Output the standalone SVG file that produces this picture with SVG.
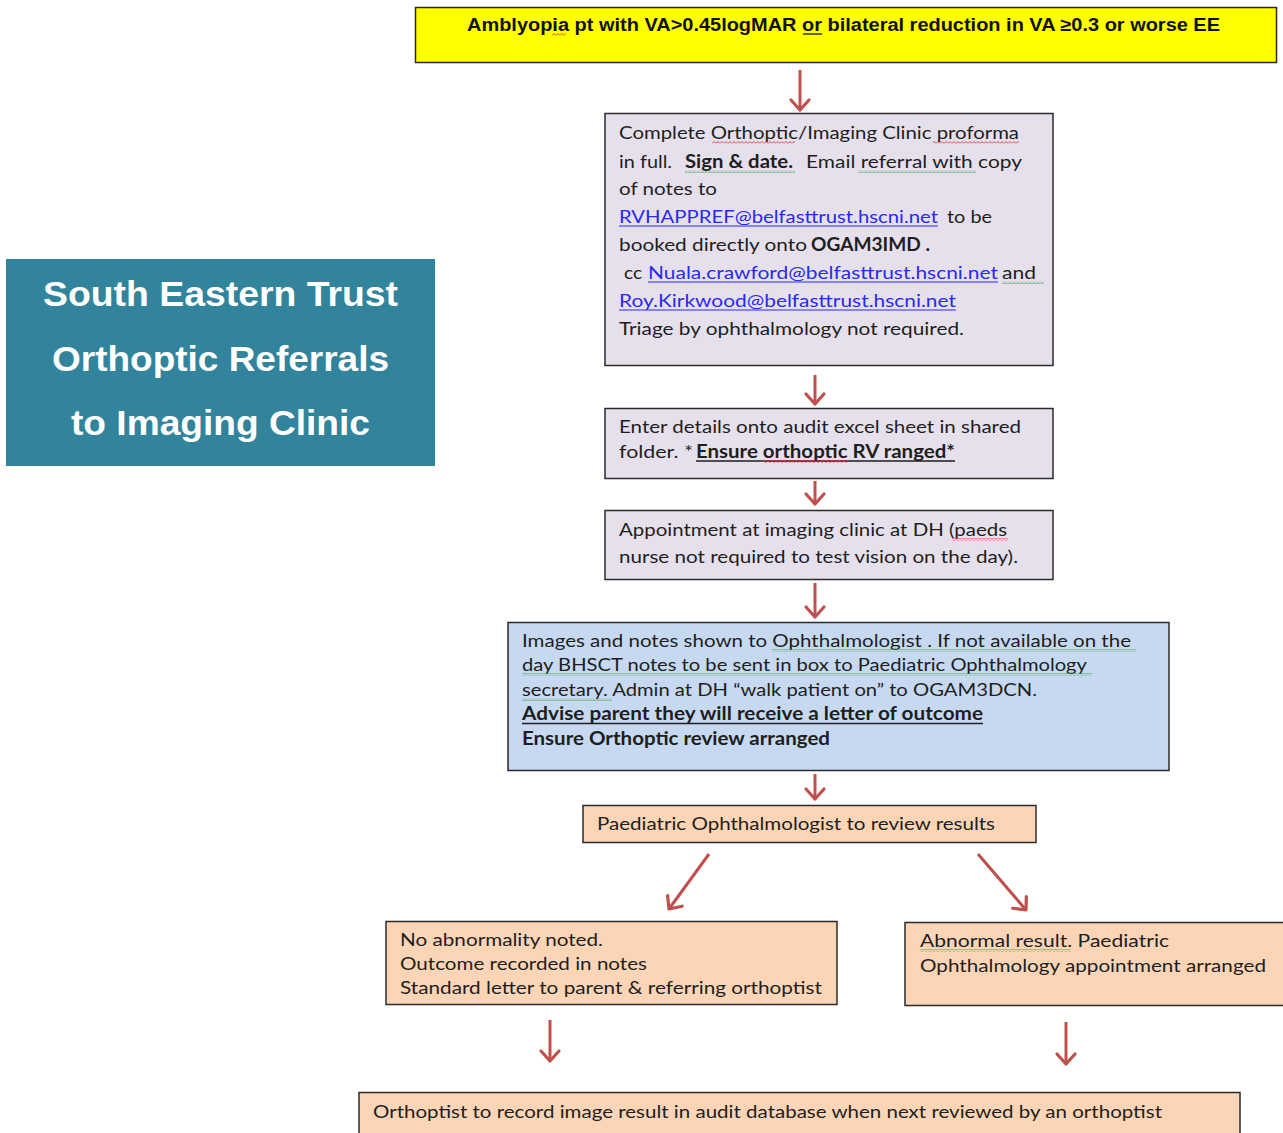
<svg xmlns="http://www.w3.org/2000/svg" width="1283" height="1133" viewBox="0 0 1283 1133">
  <defs>
    <style>
      .box { stroke: #2b2b2b; stroke-width: 1.5; }
      .t { font-family: Lato, "Open Sans", sans-serif; font-size: 18px; fill: #1e1e1e; }
      .b { font-weight: bold; }
      .link { fill: #2a2af0; }
      .ul { stroke: #1e1e1e; stroke-width: 1.3; }
      .ulb { stroke: #2a2af0; stroke-width: 1.2; }
      .title { font-family: "Liberation Sans", Arial, sans-serif; font-size: 35px; font-weight: bold; fill: #ffffff; }
      .head { font-family: "Liberation Sans", Arial, sans-serif; font-size: 18px; font-weight: bold; fill: #111111; }
      .conn { stroke: #C0504D; stroke-width: 3; fill: none; marker-end: url(#chev); }
    </style>
    <marker id="chev" markerUnits="userSpaceOnUse" markerWidth="24" markerHeight="24" refX="0" refY="0" viewBox="-12 -12 24 24" orient="auto" overflow="visible">
      <path d="M-10,-9 L0,0 L-10,9" fill="none" stroke="#C0504D" stroke-width="3.2" stroke-linecap="round" stroke-linejoin="round"/>
    </marker>
    <pattern id="wavyRed" patternUnits="userSpaceOnUse" width="4" height="3">
      <path d="M0,2.5 L2,0.5 L4,2.5" fill="none" stroke="#e03030" stroke-width="0.9"/>
    </pattern>
    <pattern id="wavyGreen" patternUnits="userSpaceOnUse" width="4" height="3">
      <path d="M0,2.5 L2,0.5 L4,2.5" fill="none" stroke="#3fa03f" stroke-width="0.9"/>
    </pattern>
  </defs>

  <rect width="1283" height="1133" fill="#ffffff"/>

  <!-- title panel -->
  <g id="title">
    <rect x="6" y="259" width="429" height="207" fill="#31849B"/>
    <text class="title" x="43" y="306" textLength="355" lengthAdjust="spacingAndGlyphs">South Eastern Trust</text>
    <text class="title" x="52" y="371" textLength="337" lengthAdjust="spacingAndGlyphs">Orthoptic Referrals</text>
    <text class="title" x="71" y="435" textLength="299" lengthAdjust="spacingAndGlyphs">to Imaging Clinic</text>
  </g>

  <!-- connectors -->
  <g id="connectors">
    <path class="conn" d="M800,70 L800,110"/>
    <path class="conn" d="M815,375 L815,404"/>
    <path class="conn" d="M815,481 L815,504"/>
    <path class="conn" d="M815,583 L815,617"/>
    <path class="conn" d="M815,774 L815,799"/>
    <path class="conn" d="M709,854 L669,909"/>
    <path class="conn" d="M978,854 L1026,910"/>
    <path class="conn" d="M550,1020 L550,1061"/>
    <path class="conn" d="M1066,1022 L1066,1064"/>
  </g>

  <!-- criteria -->
  <g id="criteria">
    <rect class="box" x="415.5" y="7.5" width="861" height="55" fill="#FFFF00"/>
    <text class="head" x="467" y="31" textLength="753" lengthAdjust="spacingAndGlyphs">Amblyopia pt with VA&gt;0.45logMAR or bilateral reduction in VA ≥0.3 or worse EE</text>
    <line x1="803" y1="34" x2="822" y2="34" stroke="#111" stroke-width="1.3"/>
    <rect x="552" y="33" width="14" height="3" fill="url(#wavyRed)"/>
  </g>

  <!-- proforma and email -->
  <g id="proforma">
    <rect class="box" x="605" y="113.5" width="448" height="252" fill="#E6E0EC"/>
    <text class="t" x="619" y="139" textLength="400" lengthAdjust="spacingAndGlyphs">Complete Orthoptic/Imaging Clinic proforma</text>
    <rect x="712" y="141" width="83" height="3" fill="url(#wavyRed)"/>
    <rect x="933" y="141" width="86" height="3" fill="url(#wavyRed)"/>
    <text class="t" x="619" y="168" textLength="53" lengthAdjust="spacingAndGlyphs">in full.</text>
    <text class="t b" x="685" y="168" textLength="108" lengthAdjust="spacingAndGlyphs">Sign &amp; date.</text>
    <text class="t" x="806" y="168" textLength="216" lengthAdjust="spacingAndGlyphs">Email referral  with copy</text>
    <rect x="685" y="170" width="110" height="3" fill="url(#wavyGreen)"/>
    <rect x="858" y="170" width="118" height="3" fill="url(#wavyGreen)"/>
    <text class="t" x="619" y="195" textLength="98" lengthAdjust="spacingAndGlyphs">of notes to</text>
    <text class="t link" x="619" y="223" textLength="319" lengthAdjust="spacingAndGlyphs">RVHAPPREF@belfasttrust.hscni.net</text>
    <line class="ulb" x1="619" y1="226" x2="938" y2="226"/>
    <text class="t" x="947" y="223" textLength="45" lengthAdjust="spacingAndGlyphs">to be</text>
    <text class="t" x="619" y="251" textLength="188" lengthAdjust="spacingAndGlyphs">booked directly onto</text>
    <text class="t b" x="811" y="251" textLength="119" lengthAdjust="spacingAndGlyphs">OGAM3IMD .</text>
    <text class="t" x="624" y="279" textLength="18" lengthAdjust="spacingAndGlyphs">cc</text>
    <text class="t link" x="648" y="279" textLength="350" lengthAdjust="spacingAndGlyphs">Nuala.crawford@belfasttrust.hscni.net</text>
    <line class="ulb" x1="648" y1="282" x2="998" y2="282"/>
    <text class="t" x="1002" y="279" textLength="34" lengthAdjust="spacingAndGlyphs">and</text>
    <rect x="1002" y="281" width="42" height="3" fill="url(#wavyGreen)"/>
    <text class="t link" x="619" y="307" textLength="337" lengthAdjust="spacingAndGlyphs">Roy.Kirkwood@belfasttrust.hscni.net</text>
    <line class="ulb" x1="619" y1="310" x2="956" y2="310"/>
    <text class="t" x="619" y="335" textLength="345" lengthAdjust="spacingAndGlyphs">Triage by ophthalmology not required.</text>
  </g>

  <!-- audit sheet -->
  <g id="audit">
    <rect class="box" x="605" y="408.5" width="448" height="70" fill="#E6E0EC"/>
    <text class="t" x="619" y="433" textLength="402" lengthAdjust="spacingAndGlyphs">Enter details onto audit excel sheet in shared</text>
    <text class="t" x="619" y="458" textLength="74" lengthAdjust="spacingAndGlyphs">folder. *</text>
    <text class="t b" x="696" y="458" textLength="259" lengthAdjust="spacingAndGlyphs">Ensure orthoptic RV ranged*</text>
    <line class="ul" x1="696" y1="461" x2="955" y2="461"/>
    <rect x="763" y="460" width="84" height="3" fill="url(#wavyRed)"/>
  </g>

  <!-- appointment -->
  <g id="appointment">
    <rect class="box" x="605" y="510.5" width="448" height="69" fill="#E6E0EC"/>
    <text class="t" x="619" y="536" textLength="388" lengthAdjust="spacingAndGlyphs">Appointment at imaging clinic  at DH (paeds</text>
    <rect x="952" y="538" width="56" height="3" fill="url(#wavyRed)"/>
    <text class="t" x="619" y="563" textLength="399" lengthAdjust="spacingAndGlyphs">nurse not required to test vision on the day).</text>
  </g>

  <!-- images shown -->
  <g id="images">
    <rect class="box" x="508" y="622.5" width="661" height="148" fill="#C6D9F1"/>
    <text class="t" x="522" y="647" textLength="609" lengthAdjust="spacingAndGlyphs">Images and notes shown to Ophthalmologist . If not available on the</text>
    <rect x="772" y="649" width="364" height="3" fill="url(#wavyGreen)"/>
    <text class="t" x="522" y="671" textLength="565" lengthAdjust="spacingAndGlyphs">day BHSCT notes to be sent in box to Paediatric Ophthalmology</text>
    <rect x="522" y="673" width="570" height="3" fill="url(#wavyGreen)"/>
    <text class="t" x="522" y="696" textLength="515" lengthAdjust="spacingAndGlyphs">secretary. Admin at DH “walk patient on” to OGAM3DCN.</text>
    <rect x="522" y="698" width="90" height="3" fill="url(#wavyGreen)"/>
    <text class="t b" x="522" y="720" textLength="461" lengthAdjust="spacingAndGlyphs">Advise parent they will receive a letter of outcome</text>
    <line class="ul" x1="522" y1="723.5" x2="983" y2="723.5"/>
    <text class="t b" x="522" y="745" textLength="308" lengthAdjust="spacingAndGlyphs">Ensure Orthoptic review arranged</text>
  </g>

  <!-- review -->
  <g id="review">
    <rect class="box" x="583" y="805.5" width="453" height="37" fill="#FBD5B5"/>
    <text class="t" x="597" y="830" textLength="398" lengthAdjust="spacingAndGlyphs">Paediatric Ophthalmologist to review results</text>
  </g>

  <!-- normal outcome -->
  <g id="normal">
    <rect class="box" x="386" y="921.5" width="451" height="83" fill="#FBD5B5"/>
    <text class="t" x="400" y="946" textLength="203" lengthAdjust="spacingAndGlyphs">No abnormality noted.</text>
    <text class="t" x="400" y="970" textLength="247" lengthAdjust="spacingAndGlyphs">Outcome recorded in notes</text>
    <text class="t" x="400" y="994" textLength="422" lengthAdjust="spacingAndGlyphs">Standard letter to parent &amp; referring orthoptist</text>
  </g>

  <!-- abnormal outcome -->
  <g id="abnormal">
    <rect class="box" x="905" y="922.5" width="390" height="83" fill="#FBD5B5"/>
    <text class="t" x="920" y="947" textLength="249" lengthAdjust="spacingAndGlyphs">Abnormal  result. Paediatric</text>
    <rect x="920" y="949" width="151" height="3" fill="url(#wavyGreen)"/>
    <text class="t" x="920" y="972" textLength="346" lengthAdjust="spacingAndGlyphs">Ophthalmology appointment arranged</text>
  </g>

  <!-- record result -->
  <g id="record">
    <rect class="box" x="359" y="1092.5" width="881" height="50" fill="#FBD5B5"/>
    <text class="t" x="373" y="1118" textLength="789" lengthAdjust="spacingAndGlyphs">Orthoptist to record image result in audit database when next reviewed by an orthoptist</text>
  </g>
</svg>
